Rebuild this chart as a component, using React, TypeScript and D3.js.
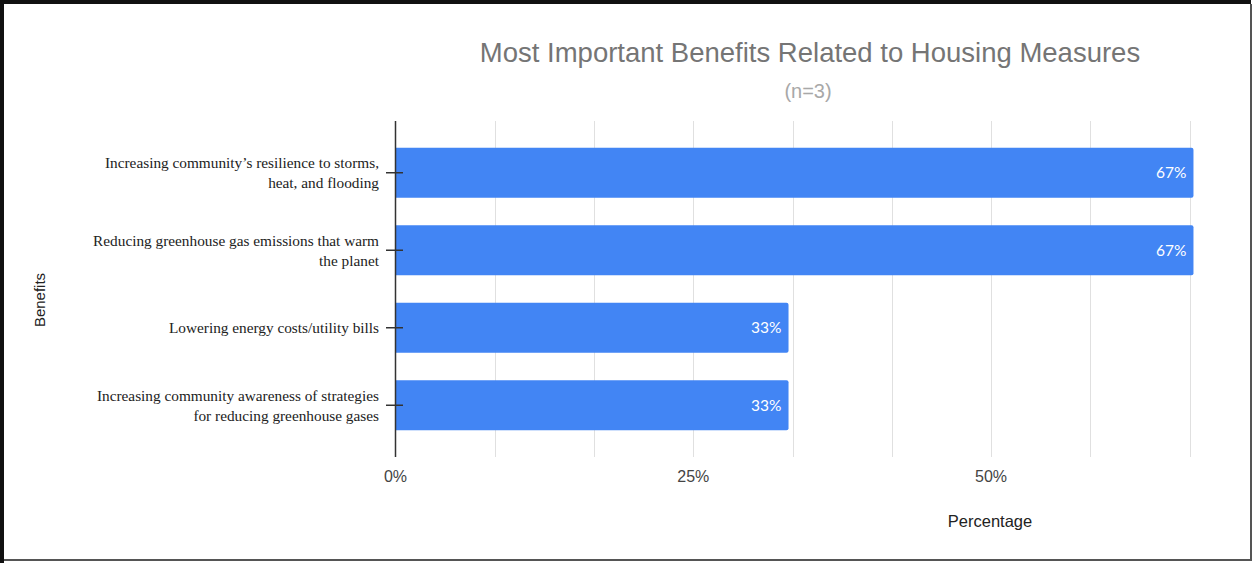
import React from "react";
import * as d3 from "d3";

const categories: string[][] = [
  ["Increasing community’s resilience to storms,", "heat, and flooding"],
  ["Reducing greenhouse gas emissions that warm", "the planet"],
  ["Lowering energy costs/utility bills"],
  ["Increasing community awareness of strategies", "for reducing greenhouse gases"],
];
const values: number[] = [0.67, 0.67, 0.33, 0.33];
const valueLabels: string[] = ["67%", "67%", "33%", "33%"];
const tickValues: number[] = [0, 0.25, 0.5];
const gridValues: number[] = [0, 1, 2, 3, 4, 5, 6, 7, 8].map((i) => i / 12);
const title = "Most Important Benefits Related to Housing Measures";
const subtitle = "(n=3)";
const xTitle = "Percentage";
const yTitle = "Benefits";

const W = 1255;
const H = 563;

export default function App() {
  const x = d3.scaleLinear().domain([0, 0.5]).range([395.5, 991]);
  const keys = categories.map((c) => c.join(" "));
  const y = d3
    .scaleBand<string>()
    .domain(keys)
    .range([121, 457])
    .paddingInner(0.355)
    .paddingOuter(0.345);
  const top = 121;
  const bottom = 457;
  const sans = "'Liberation Sans', Arial, Helvetica, sans-serif";
  const serif = "'Liberation Serif', 'Times New Roman', serif";
  const fmt = d3.format(".0%");
  const lineH = 20;

  return (
    <svg
      width={W}
      height={H}
      style={{ position: "absolute", left: 0, top: 0, display: "block", background: "#fff" }}
    >
      {/* frame */}
      <rect x={0} y={0} width={W} height={H} fill="#fff" />
      <line x1={2} y1={2} x2={1251} y2={2} stroke="#111" strokeWidth={4} />
      <line x1={2} y1={0} x2={2} y2={563} stroke="#111" strokeWidth={4} />
      <line x1={1251} y1={4} x2={1251} y2={561} stroke="#555" strokeWidth={2} />
      <line x1={4} y1={560} x2={1252} y2={560} stroke="#555" strokeWidth={2} />

      {/* title */}
      <text x={810} y={62} textAnchor="middle" fontFamily={sans} fontSize={27.5} fill="#757575">
        {title}
      </text>
      <text x={808} y={98} textAnchor="middle" fontFamily={sans} fontSize={20} fill="#a8a8a8">
        {subtitle}
      </text>

      {/* gridlines */}
      {gridValues.map((g, i) =>
        i === 0 ? null : (
          <line
            key={"g" + i}
            x1={Math.round(x(g)) + 0.5}
            x2={Math.round(x(g)) + 0.5}
            y1={top}
            y2={bottom}
            stroke="#e0e0e0"
            strokeWidth={1}
          />
        )
      )}

      {/* bars */}
      {values.map((v, i) => {
        const by = y(keys[i])!;
        const bw = y.bandwidth();
        const x0 = x(0);
        const x1 = x(v);
        const r = 2;
        const path = `M${x0},${by} H${x1 - r} Q${x1},${by} ${x1},${by + r} V${by + bw - r} Q${x1},${by + bw} ${x1 - r},${by + bw} H${x0} Z`;
        return (
          <g key={"b" + i}>
            <path d={path} fill="#4285f4" />
            <text
              x={x1 - 7}
              y={by + bw / 2 + 5.5}
              textAnchor="end"
              fontFamily="Lato, 'Open Sans', Arial, sans-serif"
              fontSize={15.5}
              fill="#ffffff"
            >
              {valueLabels[i]}
            </text>
          </g>
        );
      })}

      {/* y axis */}
      <line x1={x(0)} x2={x(0)} y1={top} y2={bottom} stroke="#333" strokeWidth={1.5} />
      {keys.map((k, i) => {
        const cy = y(k)! + y.bandwidth() / 2;
        const lines = categories[i];
        const startY = cy + 5.5 - ((lines.length - 1) * lineH) / 2;
        return (
          <g key={"t" + i}>
            <line x1={386} x2={403} y1={cy} y2={cy} stroke="#333" strokeWidth={1.5} />
            <text textAnchor="end" fontFamily={serif} fontSize={15.3} fill="#222">
              {lines.map((ln, j) => (
                <tspan key={j} x={379} y={startY + j * lineH}>
                  {ln}
                </tspan>
              ))}
            </text>
          </g>
        );
      })}

      {/* x tick labels */}
      {tickValues.map((t) => (
        <text
          key={"x" + t}
          x={x(t)}
          y={482}
          textAnchor="middle"
          fontFamily={sans}
          fontSize={16}
          fill="#444"
        >
          {fmt(t)}
        </text>
      ))}

      {/* axis titles */}
      <text x={990} y={527} textAnchor="middle" fontFamily={sans} fontSize={16.5} fill="#222">
        {xTitle}
      </text>
      <text
        transform="translate(45,300) rotate(-90)"
        textAnchor="middle"
        fontFamily={sans}
        fontSize={15}
        fill="#222"
      >
        {yTitle}
      </text>
    </svg>
  );
}
